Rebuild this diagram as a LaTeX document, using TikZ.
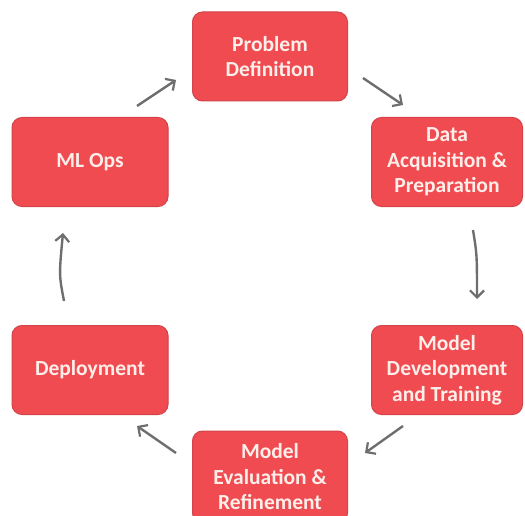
\documentclass[tikz,border=0pt]{standalone}
\usepackage{fontspec}
\setmainfont{Carlito}
\usetikzlibrary{arrows.meta}
\definecolor{boxred}{HTML}{EF4B51}
\definecolor{boxedge}{HTML}{D24449}
\definecolor{boxtext}{HTML}{FDEEEA}
\definecolor{arrgray}{HTML}{6E6E6E}
\begin{document}
\begin{tikzpicture}[x=1pt,y=-1pt,
  stage/.style={draw=boxedge, line width=1pt, fill=boxred, rounded corners=10pt,
    minimum width=155pt, minimum height=89pt, inner sep=2pt, align=center,
    text=boxtext, font=\fontsize{21.5}{25.5}\selectfont\bfseries},
  flow/.style={draw=arrgray, line width=2.4pt, -{Straight Barb[length=7pt,width=14pt,line width=2.2pt]}}]
\useasboundingbox (0,0) rectangle (525,516);
\node[stage] (pd) at (270,56.5) {Problem\\Definition};
\node[stage, minimum width=151pt] (da) at (447,162) {Data\\Acquisition \&\\Preparation};
\node[stage, minimum width=151pt] (md) at (447,370) {Model\\Development\\and Training};
\node[stage, minimum height=92pt] (me) at (270,477) {Model\\Evaluation \&\\Refinement};
\node[stage, minimum width=156pt] (de) at (90,370) {Deployment};
\node[stage, minimum width=156pt] (ml) at (90,162) {ML Ops};
\coordinate (a1s) at (137,106); \coordinate (a1e) at (176,80);
\coordinate (a2s) at (363,78); \coordinate (a2e) at (403,105);
\coordinate (a3s) at (473,230); \coordinate (a3e) at (477,299);
\coordinate (a4s) at (403,426); \coordinate (a4e) at (365,453);
\coordinate (a5s) at (176,453); \coordinate (a5e) at (137,426);
\coordinate (a6s) at (64,301); \coordinate (a6e) at (63,233);
\draw[flow] (a1s) -- (a1e);
\draw[flow] (a2s) -- (a2e);
\draw[flow] (a3s) .. controls (477,255) .. (a3e);
\draw[flow] (a4s) -- (a4e);
\draw[flow] (a5s) -- (a5e);
\draw[flow] (a6s) .. controls (59,275) .. (a6e);
\end{tikzpicture}
\end{document}
